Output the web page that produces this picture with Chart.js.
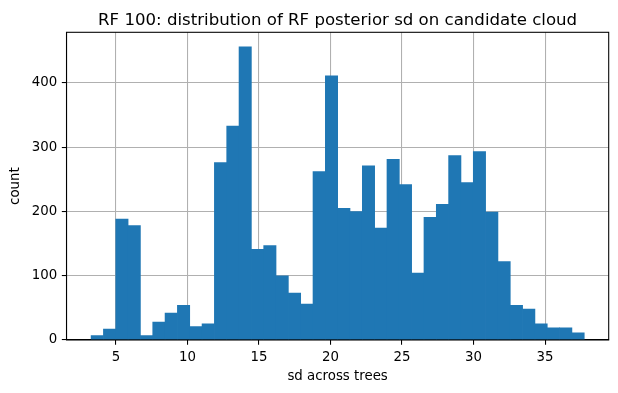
<!DOCTYPE html>
<html>
<head>
<meta charset="utf-8">
<script src="https://cdn.jsdelivr.net/npm/chart.js@4/dist/chart.umd.min.js"></script>
<style>
html,body{margin:0;padding:0;background:#fff;}
#wrap{width:618px;height:393px;position:relative;}
</style>
</head>
<body>
<div id="wrap"><canvas id="c" width="618" height="393"></canvas></div>
<script>
const titleText = "RF 100: distribution of RF posterior sd on candidate cloud";
const xLabel = "sd across trees";
const yLabel = "count";
const binStart = 3.26;
const binWidth = 0.862;
const counts = [7, 17, 188, 178, 7, 28, 42, 54, 21, 25, 276, 333, 456, 141, 147, 100, 73, 56, 262, 411, 205, 200, 271, 174, 281, 242, 104, 191, 211, 287, 245, 293, 199, 122, 54, 48, 25, 19, 19, 11];
const xTicks = [5, 10, 15, 20, 25, 30, 35];
const yTicks = [0, 100, 200, 300, 400];
const xRange = [1.54, 39.45];
const yRange = [0, 478.8];

const points = counts.map((c, i) => ({x: binStart + (i + 0.5) * binWidth, y: c}));
const FONT = "'DejaVu Sans', sans-serif";

const textPlugin = {
  id: 'texts',
  afterDraw(chart) {
    const ctx = chart.ctx, a = chart.chartArea;
    ctx.save();
    ctx.strokeStyle = '#000';
    ctx.lineWidth = 1.07;
    ctx.strokeRect(a.left, a.top, a.right - a.left, a.bottom - a.top);
    ctx.fillStyle = '#000';
    ctx.font = '16.6px ' + FONT;
    ctx.textAlign = 'center';
    ctx.textBaseline = 'alphabetic';
    ctx.fillText(titleText, (a.left + a.right) / 2, 25);
    ctx.font = '13.33px ' + FONT;
    ctx.textBaseline = 'middle';
    ctx.fillText(xLabel, (a.left + a.right) / 2, 377);
    ctx.translate(16, (a.top + a.bottom) / 2);
    ctx.rotate(-Math.PI / 2);
    ctx.fillText(yLabel, 0, 0);
    ctx.restore();
  }
};

new Chart(document.getElementById('c'), {
  type: 'bar',
  data: {
    datasets: [{
      data: points,
      backgroundColor: '#1f77b4',
      borderWidth: 0,
      barPercentage: 1,
      categoryPercentage: 1,
      grouped: false
    }]
  },
  options: {
    responsive: false,
    animation: false,
    events: [],
    layout: {padding: {left: 0, right: 9.3, top: 32.3, bottom: 0}},
    plugins: {legend: {display: false}, tooltip: {enabled: false}, title: {display: false}},
    scales: {
      x: {
        type: 'linear',
        offset: false,
        min: xRange[0], max: xRange[1],
        z: 1,
        afterBuildTicks: s => { s.ticks = xTicks.map(v => ({value: v})); },
        afterFit: s => { s.height = 53; },
        grid: {offset: false, color: '#b0b0b0', lineWidth: 1.07, tickColor: '#000', tickLength: 4.67, drawOnChartArea: true},
        border: {display: true, color: '#000', width: 1.07},
        ticks: {color: '#000', padding: 4.67, font: {family: FONT, size: 13.33}, maxRotation: 0, autoSkip: false}
      },
      y: {
        type: 'linear',
        min: yRange[0], max: yRange[1],
        z: 1,
        afterBuildTicks: s => { s.ticks = yTicks.map(v => ({value: v})); },
        afterFit: s => { s.width = 66.5; },
        grid: {color: '#b0b0b0', lineWidth: 1.07, tickColor: '#000', tickLength: 4.67},
        border: {display: true, color: '#000', width: 1.07},
        ticks: {color: '#000', padding: 4.67, font: {family: FONT, size: 13.33}, autoSkip: false}
      }
    }
  },
  plugins: [textPlugin]
});
</script>
</body>
</html>
